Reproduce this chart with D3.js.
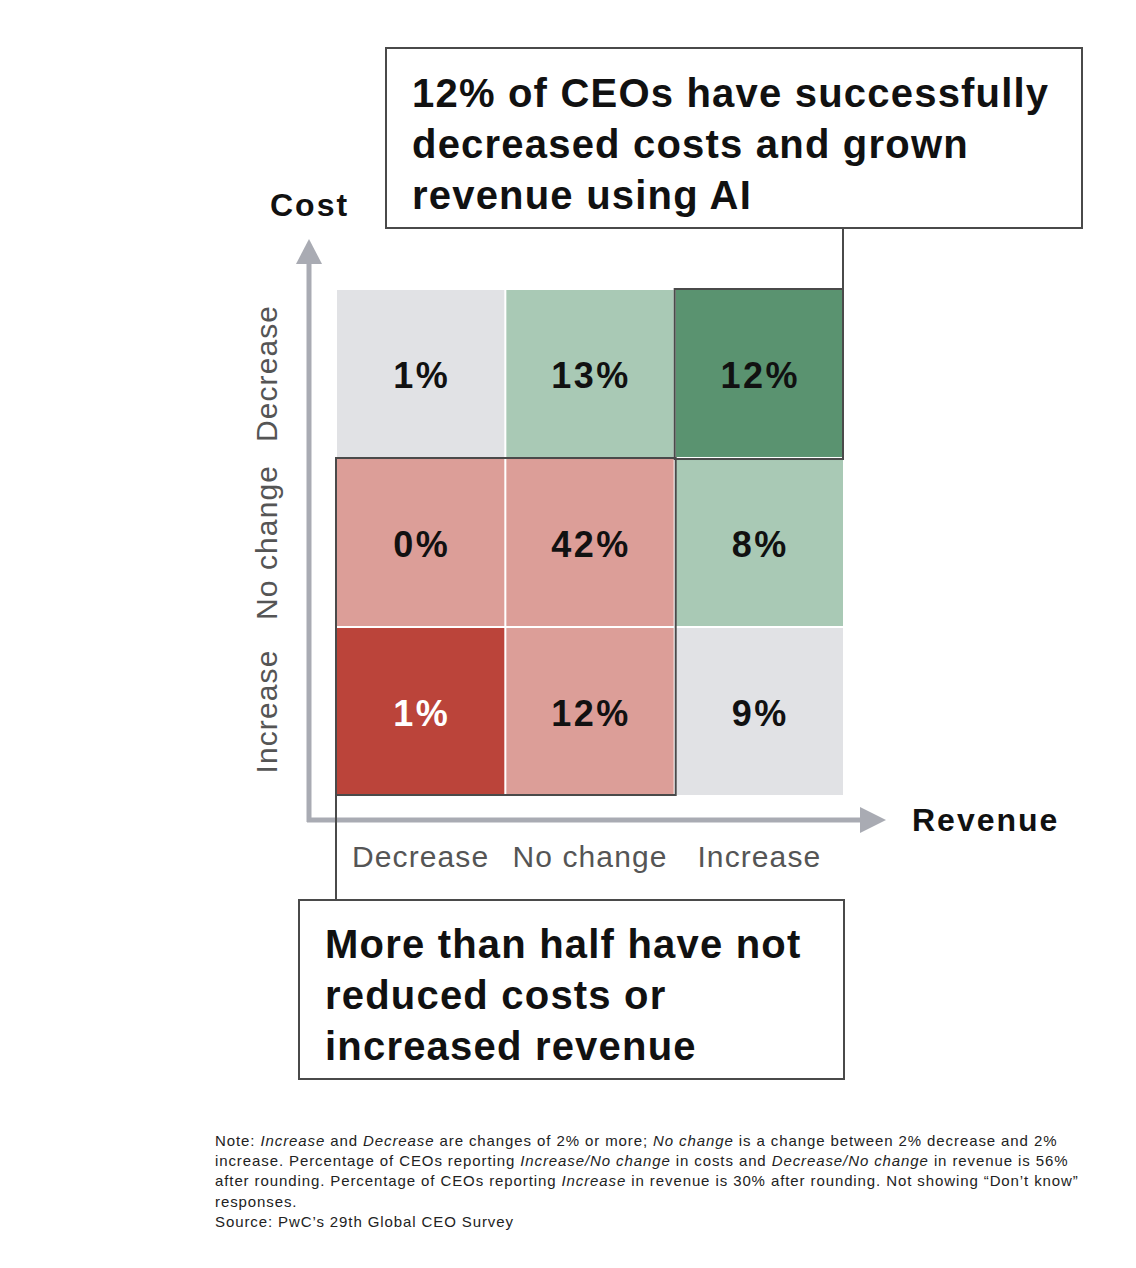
<!DOCTYPE html>
<html>
<head>
<meta charset="utf-8">
<script src="https://cdn.jsdelivr.net/npm/d3@7/dist/d3.min.js"></script>
<style>
  body { margin: 0; background: #fff; }
  svg { display: block; font-family: "Liberation Sans", Arial, sans-serif; }
</style>
</head>
<body>
<div class="canvas"></div>
<script>
const dims = { width: 1136, height: 1268 };

// data
const revenueLevels = ['Decrease', 'No change', 'Increase'];
const costLevels = ['Decrease', 'No change', 'Increase'];   // top to bottom
const values = [
  [1, 13, 12],
  [0, 42, 8],
  [1, 12, 9]
];
const groups = [
  ['neutral', 'gain', 'best'],
  ['loss', 'loss', 'gain'],
  ['worst', 'loss', 'neutral']
];
const groupNames = ['neutral', 'gain', 'best', 'loss', 'worst'];
const groupColors = ['#e1e2e5', '#a9c9b5', '#5a9370', '#dc9e98', '#bb443a'];

const topCallout = ['12% of CEOs have successfully', 'decreased costs and grown', 'revenue using AI'];
const bottomCallout = ['More than half have not', 'reduced costs or', 'increased revenue'];

const noteLines = [
  [['Note: ', 0], ['Increase', 1], [' and ', 0], ['Decrease', 1], [' are changes of 2% or more; ', 0], ['No change', 1], [' is a change between 2% decrease and 2%', 0]],
  [['increase. Percentage of CEOs reporting ', 0], ['Increase/No change', 1], [' in costs and ', 0], ['Decrease/No change', 1], [' in revenue is 56%', 0]],
  [['after rounding. Percentage of CEOs reporting ', 0], ['Increase', 1], [' in revenue is 30% after rounding. Not showing \u201cDon\u2019t know\u201d', 0]],
  [['responses.', 0]],
  [['Source: PwC\u2019s 29th Global CEO Survey', 0]]
];

const svg = d3.select('.canvas')
  .append('svg')
    .attr('width', dims.width)
    .attr('height', dims.height);

// scales
const x = d3.scaleBand()
  .domain(revenueLevels)
  .range([337, 843])
  .paddingInner(0.012);

const y = d3.scaleBand()
  .domain(costLevels)
  .range([290, 795])
  .paddingInner(0.012);

const color = d3.scaleOrdinal()
  .domain(groupNames)
  .range(groupColors);

// cells
const cells = [];
costLevels.forEach((c, i) => {
  revenueLevels.forEach((r, j) => {
    cells.push({ cost: c, revenue: r, value: values[i][j], group: groups[i][j] });
  });
});

const cellG = svg.append('g');

cellG.selectAll('rect')
  .data(cells)
  .enter()
  .append('rect')
    .attr('x', d => x(d.revenue))
    .attr('y', d => y(d.cost))
    .attr('width', x.bandwidth())
    .attr('height', y.bandwidth())
    .attr('fill', d => color(d.group));

cellG.selectAll('text')
  .data(cells)
  .enter()
  .append('text')
    .attr('x', d => x(d.revenue) + x.bandwidth() / 2 + 1)
    .attr('y', d => y(d.cost) + y.bandwidth() / 2 + 2)
    .attr('text-anchor', 'middle')
    .attr('dominant-baseline', 'central')
    .attr('font-size', 36)
    .attr('letter-spacing', 2.5)
    .attr('font-weight', 'bold')
    .attr('fill', d => d.group === 'worst' ? '#fff' : '#111')
    .text(d => `${d.value}%`);

// highlight outlines
const x0 = x.range()[0], x1 = x.range()[1];
const y0 = y.range()[0], y1 = y.range()[1];

const bestBox = {
  x: x('Increase'), y: y('Decrease'),
  w: x1 - x('Increase'), h: y('No change') - y('Decrease')
};
const lossBox = {
  x: x0, y: y('No change'),
  w: x('Increase') - x0, h: y1 - y('No change')
};

[bestBox, lossBox].forEach(b => {
  svg.append('rect')
    .attr('x', b.x - 1)
    .attr('y', b.y - 1)
    .attr('width', b.w + 1)
    .attr('height', b.h + 1)
    .attr('fill', 'none')
    .attr('stroke', '#4a4a4a')
    .attr('stroke-width', 2);
});

// axes with arrows
const axisColor = '#a9abb3';
const axisY = 309, axisX = 820;

svg.append('line')
  .attr('x1', axisY).attr('y1', axisX + 2)
  .attr('x2', axisY).attr('y2', 260)
  .attr('stroke', axisColor).attr('stroke-width', 5);
svg.append('path')
  .attr('d', `M${axisY - 13},264 L${axisY},239 L${axisY + 13},264 Z`)
  .attr('fill', axisColor);

svg.append('line')
  .attr('x1', axisY - 2).attr('y1', axisX)
  .attr('x2', 864).attr('y2', axisX)
  .attr('stroke', axisColor).attr('stroke-width', 5);
svg.append('path')
  .attr('d', `M860,${axisX - 13} L886,${axisX} L860,${axisX + 13} Z`)
  .attr('fill', axisColor);

// axis titles
svg.append('text')
  .attr('x', 270).attr('y', 216)
  .attr('font-size', 32).attr('letter-spacing', 2).attr('font-weight', 'bold').attr('fill', '#111')
  .text('Cost');

svg.append('text')
  .attr('x', 912).attr('y', 831)
  .attr('font-size', 32).attr('letter-spacing', 2).attr('font-weight', 'bold').attr('fill', '#111')
  .text('Revenue');

// tick labels
svg.append('g').selectAll('text')
  .data(revenueLevels)
  .enter()
  .append('text')
    .attr('x', d => x(d) + x.bandwidth() / 2)
    .attr('y', 867)
    .attr('text-anchor', 'middle')
    .attr('font-size', 30).attr('letter-spacing', 1.1).attr('fill', '#555')
    .text(d => d);

svg.append('g').selectAll('text')
  .data(costLevels)
  .enter()
  .append('text')
    .attr('transform', d => `translate(277, ${y(d) + y.bandwidth() / 2}) rotate(-90)`)
    .attr('text-anchor', 'middle')
    .attr('font-size', 30).attr('letter-spacing', 1.1).attr('fill', '#555')
    .text(d => d);

// callouts
const callout = (box, lines, tx, ty) => {
  svg.append('rect')
    .attr('x', box.x).attr('y', box.y)
    .attr('width', box.w).attr('height', box.h)
    .attr('fill', '#fff')
    .attr('stroke', '#4a4a4a').attr('stroke-width', 2);
  svg.append('g').selectAll('text')
    .data(lines)
    .enter()
    .append('text')
      .attr('x', tx)
      .attr('y', (d, i) => ty + i * 51)
      .attr('font-size', 40).attr('letter-spacing', 1.2)
      .attr('font-weight', 'bold').attr('fill', '#111')
      .text(d => d);
};

// connectors
svg.append('line')
  .attr('x1', x1).attr('y1', 228)
  .attr('x2', x1).attr('y2', y0)
  .attr('stroke', '#4a4a4a').attr('stroke-width', 2);
svg.append('line')
  .attr('x1', x0 - 1).attr('y1', y1)
  .attr('x2', x0 - 1).attr('y2', 900)
  .attr('stroke', '#4a4a4a').attr('stroke-width', 2);

callout({ x: 386, y: 48, w: 696, h: 180 }, topCallout, 412, 107);
callout({ x: 299, y: 900, w: 545, h: 179 }, bottomCallout, 325, 958);

// note
const note = svg.append('g');
noteLines.forEach((line, i) => {
  const t = note.append('text')
    .attr('x', 215)
    .attr('y', 1146 + i * 20.2)
    .attr('font-size', 15)
    .attr('letter-spacing', 0.9)
    .attr('fill', '#222');
  line.forEach(([s, it]) => {
    t.append('tspan')
      .attr('font-style', it ? 'italic' : 'normal')
      .text(s);
  });
});
</script>
</body>
</html>
